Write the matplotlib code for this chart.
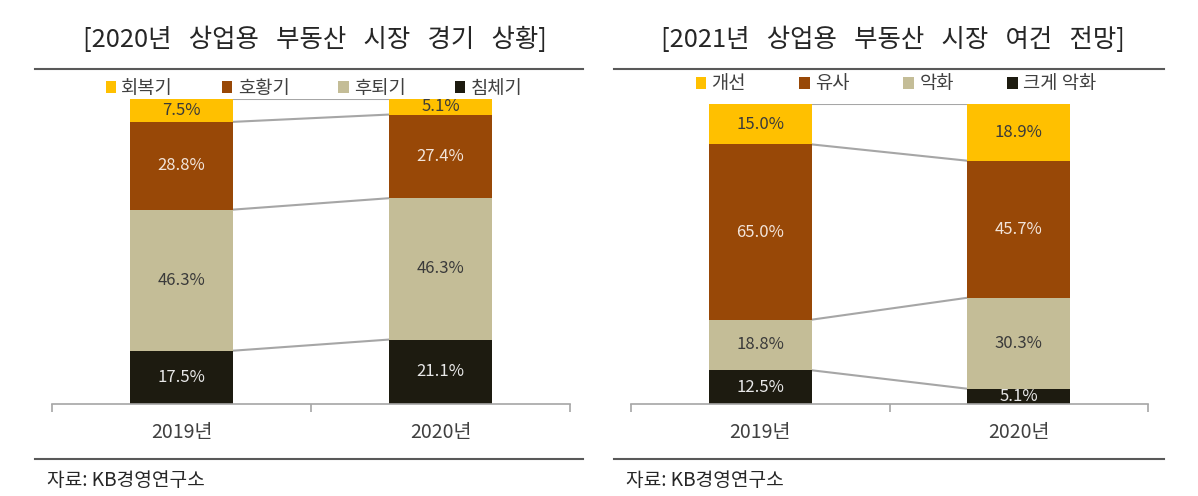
import numpy as np
import matplotlib
matplotlib.use('Agg')
import matplotlib.pyplot as plt
from matplotlib.lines import Line2D
from matplotlib.patches import Patch

plt.rcParams['font.family'] = ['Noto Sans CJK KR', 'DejaVu Sans']

# data
years = ['2019년', '2020년']

left_title = '[2020년   상업용   부동산   시장   경기   상황]'
left_series = ['회복기', '호황기', '후퇴기', '침체기']
left_values = {
    '회복기': [7.5, 5.1],
    '호황기': [28.8, 27.4],
    '후퇴기': [46.3, 46.3],
    '침체기': [17.5, 21.1],
}

right_title = '[2021년   상업용   부동산   시장   여건   전망]'
right_series = ['개선', '유사', '악화', '크게 악화']
right_values = {
    '개선': [15.0, 18.9],
    '유사': [65.0, 45.7],
    '악화': [18.8, 30.3],
    '크게 악화': [12.5, 5.1],
}

source_text = '자료: KB경영연구소'

colors = ['#FFC000', '#984807', '#C4BD97', '#1D1B10']
label_colors = ['#3A3A3A', '#F2E4DA', '#3A3A3A', '#E8E8E8']
W, H = 1198, 496


def draw_panel(fig, rect, series, values, title, title_x, leg_x, leg_y, rule_x, colsp):
    ax = fig.add_axes(rect)
    x = np.array([0.5, 1.5])
    width = 0.4
    # 100% stacked, last series at the bottom
    order = series[::-1]
    totals = np.sum([values[s] for s in series], axis=0)
    bottom = np.zeros(2)
    bounds = []
    for s in order:
        v = np.array(values[s])
        h = v / totals
        ci = series.index(s)
        ax.bar(x, h, width, bottom=bottom, color=colors[ci], edgecolor='none', zorder=2)
        for i in range(2):
            ax.text(x[i], bottom[i] + h[i] / 2, f'{v[i]:.1f}%', ha='center', va='center',
                    fontsize=12, color=label_colors[ci], zorder=3)
        bottom = bottom + h
        bounds.append(bottom.copy())
    # series lines between the bars
    for b in bounds:
        ax.plot([x[0] + width / 2, x[1] - width / 2], [b[0], b[1]], color='#A6A6A6', lw=1.5, zorder=1)

    ax.set_xlim(0, 2)
    ax.set_ylim(0, 1)
    for sp in ['top', 'right', 'left']:
        ax.spines[sp].set_visible(False)
    ax.spines['bottom'].set_color('#A6A6A6')
    ax.spines['bottom'].set_linewidth(1.2)
    ax.set_yticks([])
    ax.set_xticks([0, 1, 2])
    ax.set_xticklabels([])
    ax.tick_params(axis='x', which='major', length=6, color='#A6A6A6', width=1.2)
    ax.set_xticks(x, minor=True)
    ax.set_xticklabels(years, minor=True, fontsize=14, color='#404040')
    ax.tick_params(axis='x', which='minor', length=0, pad=13)

    handles = [Patch(facecolor=colors[i], edgecolor='none') for i in range(4)]
    fig.legend(handles, series, loc='center', bbox_to_anchor=(leg_x / W, 1 - leg_y / H),
               ncol=4, frameon=False, fontsize=13.5, handlelength=0.55, handleheight=0.55,
               handletextpad=0.3, columnspacing=colsp, labelcolor='#404040')

    fig.text(title_x / W, 1 - 40 / H, title, ha='center', va='center', fontsize=18.3, color='#262626')
    fig.add_artist(Line2D([rule_x[0] / W, rule_x[1] / W], [1 - 69 / H, 1 - 69 / H],
                          color='#595959', lw=1.5))
    fig.add_artist(Line2D([rule_x[0] / W, rule_x[1] / W], [1 - 459 / H, 1 - 459 / H],
                          color='#595959', lw=1.5))
    fig.text((rule_x[0] + 12) / W, 1 - 480 / H, source_text, ha='left', va='center',
             fontsize=13.8, color='#262626')
    return ax


fig = plt.figure(figsize=(W / 100, H / 100), dpi=100)
fig.patch.set_facecolor('white')

draw_panel(fig, [52 / W, 1 - 404 / H, 518 / W, (404 - 99) / H],
           left_series, left_values, left_title, 315, 314, 88, (35, 583), 2.6)
draw_panel(fig, [631 / W, 1 - 404 / H, 517 / W, (404 - 104) / H],
           right_series, right_values, right_title, 893, 896, 84, (614, 1164), 2.85)

fig.savefig('out.png', dpi=100)
